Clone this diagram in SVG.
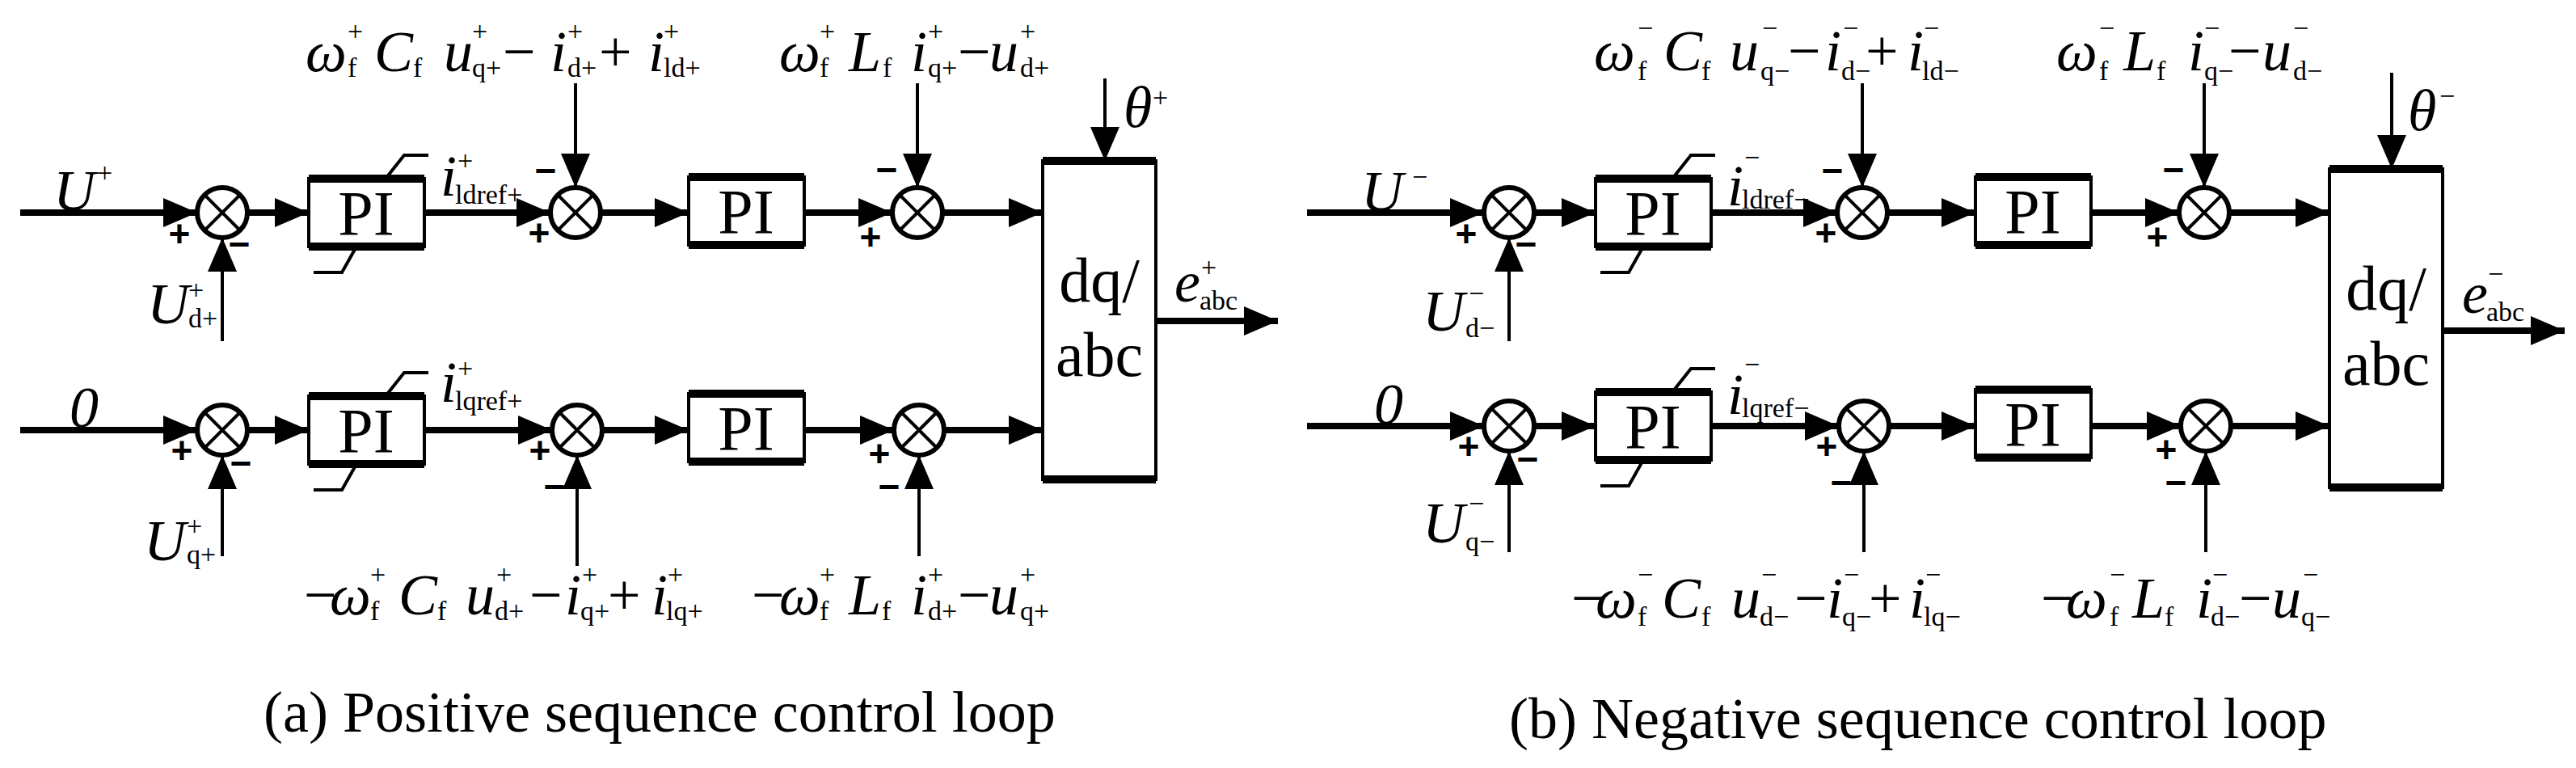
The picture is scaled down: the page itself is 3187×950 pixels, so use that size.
<svg xmlns="http://www.w3.org/2000/svg" width="3187" height="950" viewBox="0 0 3187 950" font-family="'Liberation Serif','Times New Roman',serif">
<style>
text{font-family:"Liberation Serif","Times New Roman",serif;fill:#000}
.m{font-size:72px;font-style:italic}
.u{font-size:72px}
.s{font-size:34px}
.sp{font-size:34px}
.pi{font-family:"Liberation Serif","Times New Roman",serif;font-size:78px;text-anchor:middle}
.cap{font-size:72px}
.sg{font-family:"Liberation Sans",Arial,sans-serif;font-size:46px;font-weight:bold;text-anchor:middle}
.th{stroke:#000;stroke-width:8;fill:none}
.tn{stroke:#000;stroke-width:4;fill:none}
.box{stroke:#000;stroke-width:4;fill:#fff}
.sum{stroke:#000;stroke-width:6;fill:#fff}
</style>
<defs>
<marker id="ah" markerUnits="userSpaceOnUse" markerWidth="44" markerHeight="36" refX="42" refY="18" orient="auto"><path d="M0,0 L42,18 L0,36 Z" fill="#000"/></marker>
<g id="sumg"><circle r="31" class="sum"/><path d="M-22,-22 L22,22 M22,-22 L-22,22" class="tn"/></g>
<g id="pig"><rect x="0" y="0" width="143" height="84" class="box"/><path d="M0,0 H143 M0,84 H143" stroke="#000" stroke-width="10"/></g>
</defs>

<g id="positive">
<g id="conn-pos">
<path d="M25,263 H244" class="th" marker-end="url(#ah)"/>
<path d="M306,263 H382" class="th" marker-end="url(#ah)"/>
<path d="M525,263 H681" class="th" marker-end="url(#ah)"/>
<path d="M743,263 H852" class="th" marker-end="url(#ah)"/>
<path d="M995,263 H1104" class="th" marker-end="url(#ah)"/>
<path d="M1166,263 H1290" class="th" marker-end="url(#ah)"/>
<path d="M1430,397 H1581" class="th" marker-end="url(#ah)"/>
<path d="M275,422 V294" class="tn" marker-end="url(#ah)"/>
<path d="M712,103 V232" class="tn" marker-end="url(#ah)"/>
<path d="M1135,103 V232" class="tn" marker-end="url(#ah)"/>
<path d="M1367,97 V199" class="tn" marker-end="url(#ah)"/>
<path d="M25,532 H244" class="th" marker-end="url(#ah)"/>
<path d="M306,532 H382" class="th" marker-end="url(#ah)"/>
<path d="M525,532 H683" class="th" marker-end="url(#ah)"/>
<path d="M745,532 H852" class="th" marker-end="url(#ah)"/>
<path d="M995,532 H1106" class="th" marker-end="url(#ah)"/>
<path d="M1168,532 H1290" class="th" marker-end="url(#ah)"/>
<path d="M275,688 V563" class="tn" marker-end="url(#ah)"/>
<path d="M714,700 V563" class="tn" marker-end="url(#ah)"/>
<path d="M1137,688 V563" class="tn" marker-end="url(#ah)"/>
</g>
<g id="p-sum1"><use href="#sumg" x="275" y="263"/><text class="sg" x="222" y="305">+</text><text class="sg" x="296" y="318">−</text></g>
<g id="p-pi1"><use href="#pig" x="382" y="221"/><path d="M477,221 L500,192 H530 M441,305 L423,337 H388" class="tn" stroke-width="5"/><text class="pi" x="453" y="290">PI</text></g>
<g id="p-sum2"><use href="#sumg" x="712" y="263"/><text class="sg" x="675" y="227">−</text><text class="sg" x="667" y="304">+</text></g>
<g id="p-pi2"><use href="#pig" x="852" y="219"/><text class="pi" x="923" y="288">PI</text></g>
<g id="p-sum3"><use href="#sumg" x="1135" y="263"/><text class="sg" x="1097" y="226">−</text><text class="sg" x="1077" y="309">+</text></g>
<g id="p-sum4"><use href="#sumg" x="275" y="532"/><text class="sg" x="225" y="573">+</text><text class="sg" x="298" y="589">−</text></g>
<g id="p-pi3"><use href="#pig" x="382" y="490"/><path d="M477,490 L500,461 H530 M441,574 L423,606 H388" class="tn" stroke-width="5"/><text class="pi" x="453" y="559">PI</text></g>
<g id="p-sum5"><use href="#sumg" x="714" y="532"/><text class="sg" x="668" y="573">+</text><text class="sg" x="686" y="618">−</text></g>
<g id="p-pi4"><use href="#pig" x="852" y="487"/><text class="pi" x="923" y="556">PI</text></g>
<g id="p-sum6"><use href="#sumg" x="1137" y="532"/><text class="sg" x="1088" y="577">+</text><text class="sg" x="1100" y="618">−</text></g>
<g id="p-dqabc"><rect x="1290" y="199" width="140" height="394" class="box"/><path d="M1290,199 H1430 M1290,593 H1430" stroke="#000" stroke-width="10"/><text class="pi" x="1360" y="373">dq/</text><text class="pi" x="1360" y="465">abc</text></g>
<g id="p-labels">
<text class="m" x="66" y="260">U</text><text class="sp" x="120" y="225">+</text>
<text class="m" x="182" y="400">U</text><text class="sp" x="233" y="370">+</text><text class="s" x="233" y="405">d+</text>
<text class="m" x="86" y="528">0</text>
<text class="m" x="178" y="693">U</text><text class="sp" x="231" y="662">+</text><text class="s" x="231" y="697">q+</text>
<text class="m" x="545" y="242">i</text><text class="sp" x="566" y="210">+</text><text class="s" x="563" y="252">ldref+</text>
<text class="m" x="545" y="497">i</text><text class="sp" x="566" y="467">+</text><text class="s" x="563" y="507">lqref+</text>
<text class="m" x="1390" y="157">θ</text><text class="sp" x="1426" y="132">+</text>
<text class="m" x="1453" y="373">e</text><text class="sp" x="1486" y="342">+</text><text class="s" x="1484" y="383">abc</text>
<text class="m" x="378" y="88">ω</text><text class="sp" x="430" y="50">+</text><text class="s" x="430" y="95">f</text>
<text class="m" x="463" y="88">C</text><text class="s" x="511" y="95">f</text>
<text class="m" x="549" y="88">u</text><text class="sp" x="584" y="50">+</text><text class="s" x="584" y="95">q+</text>
<text class="u" x="622" y="88">−</text>
<text class="m" x="681" y="88">i</text><text class="sp" x="702" y="50">+</text><text class="s" x="702" y="95">d+</text>
<text class="u" x="741" y="88">+</text>
<text class="m" x="802" y="88">i</text><text class="sp" x="821" y="50">+</text><text class="s" x="821" y="95">ld+</text>
<text class="m" x="964" y="88">ω</text><text class="sp" x="1014" y="50">+</text><text class="s" x="1014" y="95">f</text>
<text class="m" x="1050" y="88">L</text><text class="s" x="1092" y="95">f</text>
<text class="m" x="1127" y="88">i</text><text class="sp" x="1148" y="50">+</text><text class="s" x="1148" y="95">q+</text>
<text class="u" x="1185" y="88">−</text>
<text class="m" x="1224" y="88">u</text><text class="sp" x="1262" y="50">+</text><text class="s" x="1262" y="95">d+</text>
<text class="u" x="376" y="760">−</text>
<text class="m" x="408" y="760">ω</text><text class="sp" x="458" y="722">+</text><text class="s" x="458" y="767">f</text>
<text class="m" x="493" y="760">C</text><text class="s" x="541" y="767">f</text>
<text class="m" x="576" y="760">u</text><text class="sp" x="614" y="722">+</text><text class="s" x="612" y="767">d+</text>
<text class="u" x="655" y="760">−</text>
<text class="m" x="699" y="760">i</text><text class="sp" x="720" y="722">+</text><text class="s" x="718" y="767">q+</text>
<text class="u" x="752" y="760">+</text>
<text class="m" x="806" y="760">i</text><text class="sp" x="826" y="722">+</text><text class="s" x="824" y="767">lq+</text>
<text class="u" x="930" y="760">−</text>
<text class="m" x="964" y="760">ω</text><text class="sp" x="1014" y="722">+</text><text class="s" x="1014" y="767">f</text>
<text class="m" x="1050" y="760">L</text><text class="s" x="1091" y="767">f</text>
<text class="m" x="1127" y="760">i</text><text class="sp" x="1148" y="722">+</text><text class="s" x="1148" y="767">d+</text>
<text class="u" x="1185" y="760">−</text>
<text class="m" x="1224" y="760">u</text><text class="sp" x="1262" y="722">+</text><text class="s" x="1262" y="767">q+</text>
<text class="cap" x="326" y="905">(a) Positive sequence control loop</text>
</g>
</g>

<g id="negative" transform="translate(1592,0)">
<g id="conn-neg">
<path d="M25,263 H244" class="th" marker-end="url(#ah)"/>
<path d="M306,263 H382" class="th" marker-end="url(#ah)"/>
<path d="M525,263 H681" class="th" marker-end="url(#ah)"/>
<path d="M743,263 H852" class="th" marker-end="url(#ah)"/>
<path d="M995,263 H1104" class="th" marker-end="url(#ah)"/>
<path d="M1166,263 H1290" class="th" marker-end="url(#ah)"/>
<path d="M1430,409 H1581" class="th" marker-end="url(#ah)"/>
<path d="M275,422 V294" class="tn" marker-end="url(#ah)"/>
<path d="M712,103 V232" class="tn" marker-end="url(#ah)"/>
<path d="M1135,103 V232" class="tn" marker-end="url(#ah)"/>
<path d="M1367,90 V209" class="tn" marker-end="url(#ah)"/>
<path d="M25,527 H244" class="th" marker-end="url(#ah)"/>
<path d="M306,527 H382" class="th" marker-end="url(#ah)"/>
<path d="M525,527 H683" class="th" marker-end="url(#ah)"/>
<path d="M745,527 H852" class="th" marker-end="url(#ah)"/>
<path d="M995,527 H1106" class="th" marker-end="url(#ah)"/>
<path d="M1168,527 H1290" class="th" marker-end="url(#ah)"/>
<path d="M275,683 V558" class="tn" marker-end="url(#ah)"/>
<path d="M714,683 V558" class="tn" marker-end="url(#ah)"/>
<path d="M1137,683 V558" class="tn" marker-end="url(#ah)"/>
</g>
<g id="n-sum1"><use href="#sumg" x="275" y="263"/><text class="sg" x="222" y="305">+</text><text class="sg" x="296" y="318">−</text></g>
<g id="n-pi1"><use href="#pig" x="382" y="221"/><path d="M477,221 L500,192 H530 M441,305 L423,337 H388" class="tn" stroke-width="5"/><text class="pi" x="453" y="290">PI</text></g>
<g id="n-sum2"><use href="#sumg" x="712" y="263"/><text class="sg" x="675" y="227">−</text><text class="sg" x="667" y="304">+</text></g>
<g id="n-pi2"><use href="#pig" x="852" y="219"/><text class="pi" x="923" y="288">PI</text></g>
<g id="n-sum3"><use href="#sumg" x="1135" y="263"/><text class="sg" x="1097" y="226">−</text><text class="sg" x="1077" y="309">+</text></g>
<g id="n-sum4"><use href="#sumg" x="275" y="527"/><text class="sg" x="225" y="568">+</text><text class="sg" x="298" y="584">−</text></g>
<g id="n-pi3"><use href="#pig" x="382" y="485"/><path d="M477,485 L500,456 H530 M441,569 L423,601 H388" class="tn" stroke-width="5"/><text class="pi" x="453" y="554">PI</text></g>
<g id="n-sum5"><use href="#sumg" x="714" y="527"/><text class="sg" x="668" y="568">+</text><text class="sg" x="686" y="613">−</text></g>
<g id="n-pi4"><use href="#pig" x="852" y="482"/><text class="pi" x="923" y="551">PI</text></g>
<g id="n-sum6"><use href="#sumg" x="1137" y="527"/><text class="sg" x="1088" y="572">+</text><text class="sg" x="1100" y="613">−</text></g>
<g id="n-dqabc"><rect x="1290" y="209" width="140" height="394" class="box"/><path d="M1290,209 H1430 M1290,603 H1430" stroke="#000" stroke-width="10"/><text class="pi" x="1360" y="383">dq/</text><text class="pi" x="1360" y="476">abc</text></g>
<g id="n-labels">
<text class="m" x="92" y="261">U</text><text class="sp" x="155" y="230">−</text>
<text class="m" x="168" y="409">U</text><text class="sp" x="225" y="374">−</text><text class="s" x="221" y="417">d−</text>
<text class="m" x="108" y="524">0</text>
<text class="m" x="168" y="671">U</text><text class="sp" x="225" y="634">−</text><text class="s" x="221" y="681">q−</text>
<text class="m" x="545" y="254">i</text><text class="sp" x="566" y="206">−</text><text class="s" x="563" y="258">ldref−</text>
<text class="m" x="545" y="512">i</text><text class="sp" x="566" y="462">−</text><text class="s" x="563" y="516">lqref−</text>
<text class="m" x="1387" y="161">θ</text><text class="sp" x="1426" y="130">−</text>
<text class="m" x="1454" y="387">e</text><text class="sp" x="1486" y="350">−</text><text class="s" x="1484" y="397">abc</text>
<text class="m" x="380" y="87">ω</text><text class="sp" x="434" y="46">−</text><text class="s" x="434" y="99">f</text>
<text class="m" x="466" y="87">C</text><text class="s" x="513" y="99">f</text>
<text class="m" x="548" y="87">u</text><text class="sp" x="588" y="46">−</text><text class="s" x="586" y="99">q−</text>
<text class="u" x="620" y="87">−</text>
<text class="m" x="666" y="87">i</text><text class="sp" x="688" y="46">−</text><text class="s" x="686" y="99">d−</text>
<text class="u" x="716" y="87">+</text>
<text class="m" x="768" y="87">i</text><text class="sp" x="788" y="46">−</text><text class="s" x="786" y="99">ld−</text>
<text class="m" x="952" y="87">ω</text><text class="sp" x="1005" y="46">−</text><text class="s" x="1005" y="99">f</text>
<text class="m" x="1035" y="87">L</text><text class="s" x="1076" y="99">f</text>
<text class="m" x="1115" y="87">i</text><text class="sp" x="1135" y="46">−</text><text class="s" x="1135" y="99">q−</text>
<text class="u" x="1165" y="87">−</text>
<text class="m" x="1207" y="87">u</text><text class="sp" x="1245" y="46">−</text><text class="s" x="1245" y="99">d−</text>
<text class="u" x="352" y="764">−</text>
<text class="m" x="382" y="764">ω</text><text class="sp" x="434" y="722">−</text><text class="s" x="434" y="774">f</text>
<text class="m" x="464" y="764">C</text><text class="s" x="513" y="774">f</text>
<text class="m" x="550" y="764">u</text><text class="sp" x="587" y="722">−</text><text class="s" x="585" y="774">d−</text>
<text class="u" x="628" y="764">−</text>
<text class="m" x="668" y="764">i</text><text class="sp" x="689" y="722">−</text><text class="s" x="687" y="774">q−</text>
<text class="u" x="720" y="764">+</text>
<text class="m" x="770" y="764">i</text><text class="sp" x="790" y="722">−</text><text class="s" x="788" y="774">lq−</text>
<text class="u" x="933" y="764">−</text>
<text class="m" x="964" y="764">ω</text><text class="sp" x="1018" y="722">−</text><text class="s" x="1018" y="774">f</text>
<text class="m" x="1046" y="764">L</text><text class="s" x="1086" y="774">f</text>
<text class="m" x="1125" y="764">i</text><text class="sp" x="1145" y="722">−</text><text class="s" x="1143" y="774">d−</text>
<text class="u" x="1178" y="764">−</text>
<text class="m" x="1219" y="764">u</text><text class="sp" x="1257" y="722">−</text><text class="s" x="1255" y="774">q−</text>
<text class="cap" x="275" y="913">(b) Negative sequence control loop</text>
</g>
</g>
</svg>
